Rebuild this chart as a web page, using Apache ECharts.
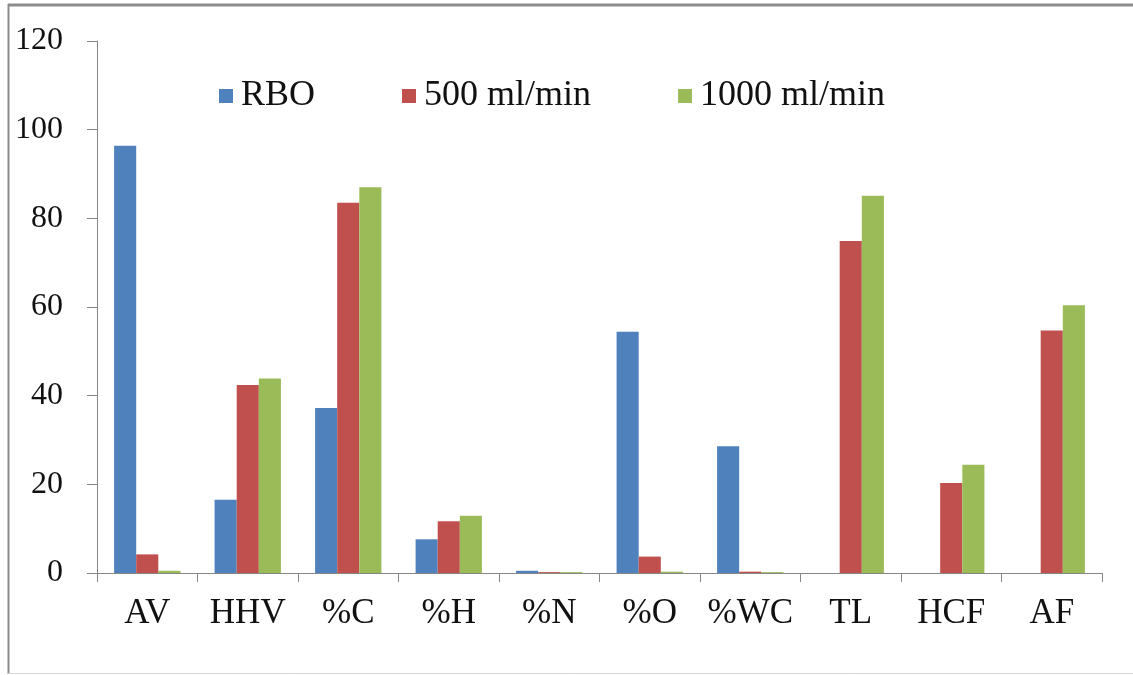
<!DOCTYPE html>
<html>
<head>
<meta charset="utf-8">
<title>Fuel properties</title>
<script src="https://cdn.jsdelivr.net/npm/echarts@6/dist/echarts.min.js"></script>
<style>
  html, body { margin: 0; padding: 0; background: #ffffff; }
  #chart { width: 1133px; height: 675px; }
</style>
</head>
<body>
<div id="chart"></div>
<script>
// Properties compared across the three samples
const categories = ['AV', 'HHV', '%C', '%H', '%N', '%O', '%WC', 'TL', 'HCF', 'AF'];
const seriesNames = ['RBO', '500 ml/min', '1000 ml/min'];
const rboValues = [96.4, 16.5, 37.2, 7.6, 0.5, 54.4, 28.6, 0, 0, 0];
const flow500Values = [4.2, 42.4, 83.5, 11.7, 0.2, 3.7, 0.3, 74.9, 20.3, 54.7];
const flow1000Values = [0.5, 43.9, 87.0, 12.9, 0.2, 0.3, 0.2, 85.1, 24.4, 60.4];
const yTicks = [0, 20, 40, 60, 80, 100, 120];

const colors = ['#4F81BD', '#C0504D', '#9BBB59'];
const axisGray = '#868686';
const textColor = '#111111';
const serif = '"Liberation Serif", "DejaVu Serif", serif';

const chart = echarts.init(document.getElementById('chart'), null, { renderer: 'canvas' });

const values = [rboValues, flow500Values, flow1000Values];

chart.setOption({
  backgroundColor: '#ffffff',
  animation: false,
  color: colors,
  grid: { left: 97, right: 31, top: 41, bottom: 102, containLabel: false },
  legend: {
    left: 219,
    top: 78,
    padding: 0,
    itemWidth: 14,
    itemHeight: 14,
    itemGap: 87,
    icon: 'rect',
    textStyle: { fontFamily: serif, fontSize: 36, color: textColor, padding: [0, 0, 0, 3] },
    data: seriesNames
  },
  xAxis: {
    type: 'category',
    data: categories,
    axisLine: { lineStyle: { color: axisGray, width: 1 } },
    axisTick: { show: true, length: 9, alignWithLabel: false, lineStyle: { color: axisGray } },
    axisLabel: { interval: 0, fontFamily: serif, fontSize: 35, color: textColor, margin: 23 }
  },
  yAxis: {
    type: 'value',
    min: yTicks[0],
    max: yTicks[yTicks.length - 1],
    interval: yTicks[1] - yTicks[0],
    axisLine: { show: true, lineStyle: { color: axisGray, width: 1 } },
    axisTick: { show: true, length: 10, lineStyle: { color: axisGray } },
    splitLine: { show: false },
    axisLabel: { fontFamily: serif, fontSize: 32, color: textColor, margin: 34 }
  },
  series: seriesNames.map((name, i) => ({
    name: name,
    type: 'bar',
    data: values[i],
    barGap: '0%',
    barCategoryGap: '34%',
    itemStyle: { color: colors[i] }
  })),
  graphic: [
    { type: 'line', shape: { x1: 8, y1: 5, x2: 1133, y2: 5 }, style: { stroke: '#8c8c8c', lineWidth: 3 } },
    { type: 'line', shape: { x1: 8.5, y1: 4, x2: 8.5, y2: 674 }, style: { stroke: '#8c8c8c', lineWidth: 2 } },
    { type: 'line', shape: { x1: 8, y1: 673.5, x2: 1133, y2: 673.5 }, style: { stroke: '#d6d6d6', lineWidth: 1 } }
  ]
});
</script>
</body>
</html>
